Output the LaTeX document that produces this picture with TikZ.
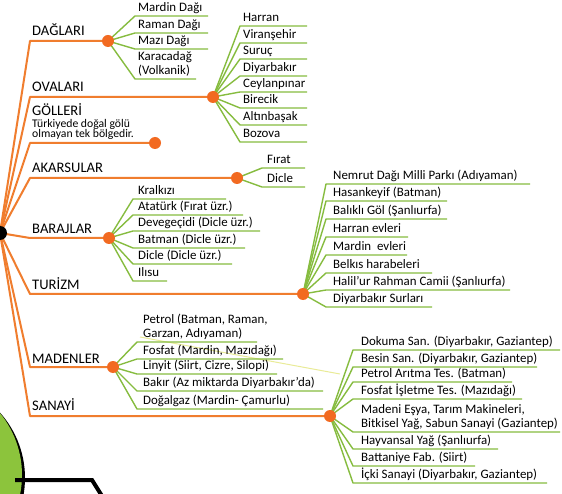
\documentclass[tikz,border=0pt]{standalone}
\usepackage{fontspec}
\setmainfont{Carlito}
\definecolor{org}{HTML}{F07D2E}
\definecolor{dotc}{HTML}{F26A21}
\definecolor{grn}{HTML}{86BC3F}
\definecolor{blob}{HTML}{8CC43C}
\tikzset{
  branch/.style={draw=org, line width=2pt, line join=round},
  twig/.style={draw=grn, line width=1.4pt, line join=round},
  bdot/.style={circle, fill=dotc, inner sep=0pt, minimum size=12pt},
  title/.style={font=\fontsize{14.6}{16}\selectfont, anchor=base west, inner sep=0pt},
  item/.style={font=\fontsize{12.9}{13.5}\selectfont, anchor=south west, inner sep=0pt, text depth=3pt, align=left},
}
\begin{document}
\begin{tikzpicture}[x=1pt,y=-1pt]
\useasboundingbox (0,0) rectangle (562,494);
\clip (0,0) rectangle (562,494);
\fill[white] (0,0) rectangle (562,494);
% bottom-left decoration
\fill[black] (-73,478) circle (98);
\fill[blob] (-76,475) circle (98);
\draw[black, line width=4pt] (15,480) -- (92,480) -- (102,496);
% faint stray line
\draw[yellow!60!grn!70!white, line width=1pt, opacity=0.7] (140,337) -- (340,374);

\coordinate (hubc) at (0,233);
% ---------- DAĞLARI
\coordinate (sA) at (30,41); \coordinate (dA) at (108,41);
\draw[branch] (hubc) -- (sA) -- (dA);
\node[title] (tA) at (32,35.5) {DAĞLARI};
\foreach \n/\y/\e/\t in {1/16/208/{Mardin Dağı}, 2/33/208/{Raman Dağı}, 3/49/208/{Mazı Dağı}, 4/79/196/{Karacadağ\\(Volkanik)}} {
  \coordinate (uA\n) at (135,\y); \coordinate (eA\n) at (\e,\y);
  \node[item] (iA\n) at (138,\y-1.5) {\t};
  \draw[twig] (dA) -- (uA\n) -- (eA\n);
}
% ---------- OVALARI
\coordinate (sB) at (30,97); \coordinate (dB) at (213,97);
\draw[branch] (hubc) -- (sB) -- (dB);
\node[title] (tB) at (32,92) {OVALARI};
\foreach \n/\y/\t in {1/26/Harran, 2/43/Viranşehir, 3/59/Suruç, 4/76/Diyarbakır, 5/92/Ceylanpınar, 6/108/Birecik, 7/125/Altınbaşak, 8/142/Bozova} {
  \coordinate (uB\n) at (240,\y); \coordinate (eB\n) at (307,\y);
  \node[item] (iB\n) at (243,\y-1.5) {\t};
  \draw[twig] (dB) -- (uB\n) -- (eB\n);
}
% ---------- GÖLLERİ
\coordinate (sC) at (30,143); \coordinate (dC) at (155,143);
\draw[branch] (hubc) -- (sC) -- (dC);
\node[title] (tC) at (32,115.5) {GÖLLERİ};
\node[font=\fontsize{11.7}{10.5}\selectfont, anchor=south west, inner sep=0pt, text depth=2.5pt, align=left] (nC) at (32,140.5) {Türkiyede doğal gölü\\olmayan tek bölgedir.};
% ---------- AKARSULAR
\coordinate (sD) at (30,178); \coordinate (dD) at (237,178);
\draw[branch] (hubc) -- (sD) -- (dD);
\node[title] (tD) at (32,173) {AKARSULAR};
\foreach \n/\y/\t in {1/168/Fırat, 2/187/Dicle} {
  \coordinate (uD\n) at (262,\y); \coordinate (eD\n) at (305,\y);
  \node[item] (iD\n) at (267,\y-1.5) {\t};
  \draw[twig] (dD) -- (uD\n) -- (eD\n);
}
% ---------- BARAJLAR
\coordinate (sE) at (30,238); \coordinate (dE) at (109,238);
\draw[branch] (hubc) -- (sE) -- (dE);
\node[title] (tE) at (32,233.5) {BARAJLAR};
\foreach \n/\y/\e/\t in {1/199/226/{Kralkızı}, 2/215/243/{Atatürk (Fırat üzr.)}, 3/231/260/{Devegeçidi (Dicle üzr.)}, 4/248/245/{Batman (Dicle üzr.)}, 5/264/232/{Dicle (Dicle üzr.)}, 6/281/167/{Ilısu}} {
  \coordinate (uE\n) at (133,\y); \coordinate (eE\n) at (\e,\y);
  \node[item] (iE\n) at (138,\y-1.5) {\t};
  \draw[twig] (dE) -- (uE\n) -- (eE\n);
}
% ---------- TURİZM
\coordinate (sF) at (30,294); \coordinate (dF) at (303,294);
\draw[branch] (hubc) -- (sF) -- (dF);
\node[title] (tF) at (32,290) {TURİZM};
\foreach \n/\y/\e/\t in {1/184/530/{Nemrut Dağı Milli Parkı (Adıyaman)}, 2/201/447/{Hasankeyif (Batman)}, 3/219/447/{Balıklı Göl (Şanlıurfa)}, 4/237/408/{Harran evleri}, 5/255/407/{Mardin\ \ evleri}, 6/273/432/{Belkıs harabeleri}, 7/290/510/{Halil’ur Rahman Camii (Şanlıurfa)}, 8/307/432/{Diyarbakır Surları}} {
  \coordinate (uF\n) at (326,\y); \coordinate (eF\n) at (\e,\y);
  \node[item] (iF\n) at (333,\y-1.5) {\t};
  \draw[twig] (dF) -- (uF\n) -- (eF\n);
}
% ---------- MADENLER
\coordinate (sG) at (30,367); \coordinate (dG) at (113,367);
\draw[branch] (hubc) -- (sG) -- (dG);
\node[title] (tG) at (32,363) {MADENLER};
\foreach \n/\y/\e/\t in {1/342/257/{Petrol (Batman, Raman,\\Garzan, Adıyaman)}, 2/359/283/{Fosfat (Mardin, Mazıdağı)}, 3/374/277/{Linyit (Siirt, Cizre, Silopi)}, 4/391/323/{Bakır (Az miktarda Diyarbakır’da)}, 5/409/323/{Doğalgaz (Mardin- Çamurlu)}} {
  \coordinate (uG\n) at (137,\y); \coordinate (eG\n) at (\e,\y);
  \node[item] (iG\n) at (143,\y-1.5) {\t};
  \draw[twig] (dG) -- (uG\n) -- (eG\n);
}
% ---------- SANAYİ
\coordinate (sH) at (30,416); \coordinate (dH) at (330,416);
\draw[branch] (hubc) -- (sH) -- (dH);
\node[title] (tH) at (32,410) {SANAYİ};
\foreach \n/\y/\e/\t in {1/350/560/{Dokuma San. (Diyarbakır, Gaziantep)}, 2/367/537/{Besin San. (Diyarbakır, Gaziantep)}, 3/382/512/{Petrol Arıtma Tes. (Batman)}, 4/399/522/{Fosfat İşletme Tes. (Mazıdağı)}, 5/432/560/{Madeni Eşya, Tarım Makineleri,\\Bitkisel Yağ, Sabun Sanayi (Gaziantep)}, 6/449/498/{Hayvansal Yağ (Şanlıurfa)}, 7/466/475/{Battaniye Fab. (Siirt)}, 8/483/547/{İçki Sanayi (Diyarbakır, Gaziantep)}} {
  \coordinate (uH\n) at (353,\y); \coordinate (eH\n) at (\e,\y);
  \node[item] (iH\n) at (361,\y-1.5) {\t};
  \draw[twig] (dH) -- (uH\n) -- (eH\n);
}
% ---------- dots on top
\foreach \k in {A,B,C,D,E,F,G,H} { \node[bdot] (dot\k) at (d\k) {}; }
\node[circle, fill=black, inner sep=0pt, minimum size=14pt] (hub) at (hubc) {};
\end{tikzpicture}
\end{document}
